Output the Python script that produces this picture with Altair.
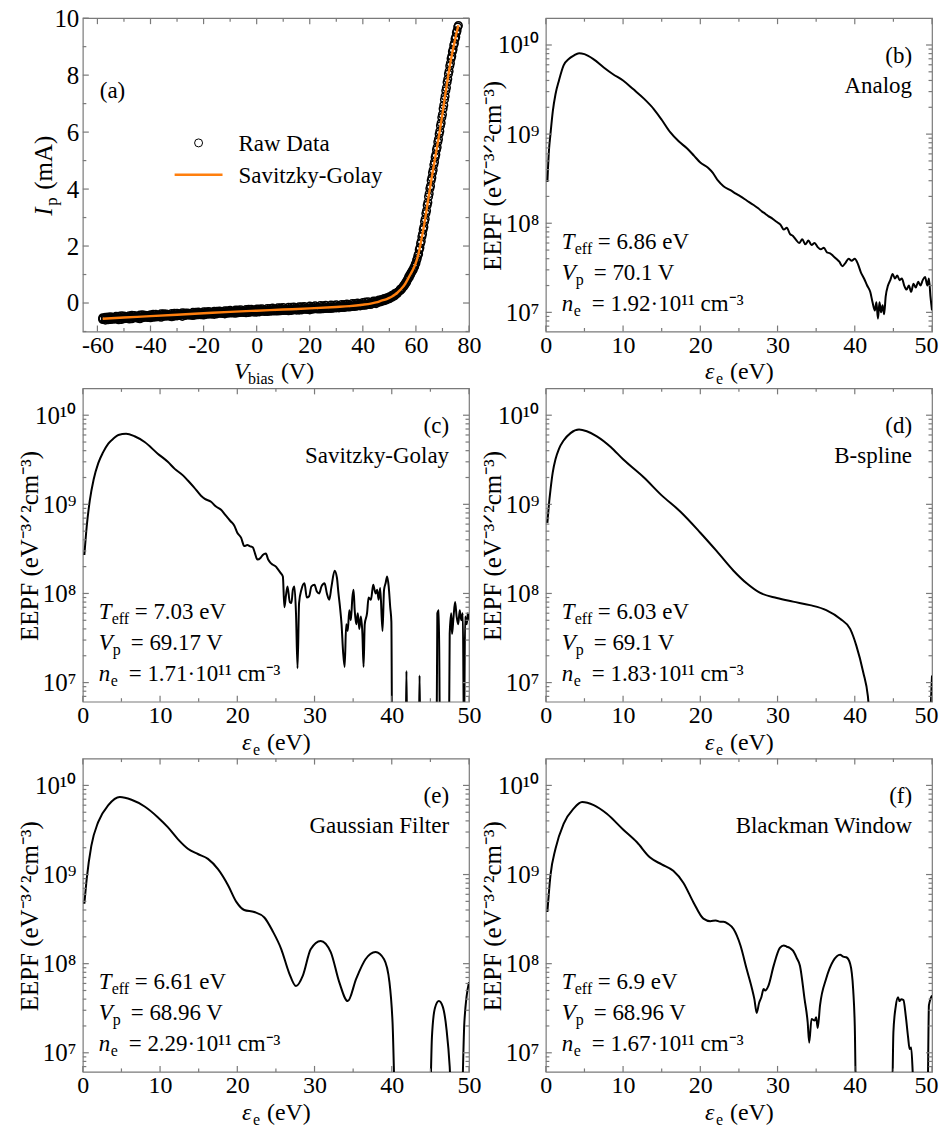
import altair as alt
import pandas as pd

FONT = "Liberation Serif"
FRAME = "#7a7a7a"
ORANGE = "#ff7f0e"
W, H = 387, 314
TICK_FS = 24
TXT_FS = 23
TITLE_FS = 24
SUB_FS = 16
XT_Y = H + 48

# ---------------- panel (a): I-V curve ----------------
RAW_V_FLAT = [-58, -57, -56, -55, -54, -53, -52, -51, -50, -49, -48, -47, -46, -45, -44, -43, -42, -41, -40, -39,
              -38, -37, -36, -35, -34, -33, -32, -31, -30, -29, -28, -27, -26, -25, -24, -23, -22, -21, -20, -19,
              -18, -17, -16, -15, -14, -13, -12, -11, -10, -9, -8, -7, -6, -5, -4, -3, -2, -1, 0, 1,
              2, 3, 4, 5, 6, 7, 8, 9, 10, 11, 12, 13, 14, 15, 16, 17, 18, 19, 20, 21,
              22, 23, 24, 25, 26, 27, 28, 29, 30, 31, 32, 33, 34, 35, 36, 37, 38, 39, 40, 41,
              42, 43, 44, 45, 46, 47, 48, 49, 50, 51, 52, 53, 54]
RAW_I_SWEEP1 = [-0.52, -0.60, -0.49, -0.58, -0.50, -0.47, -0.59, -0.45, -0.55, -0.48, -0.56, -0.43, -0.52, -0.47, -0.55, -0.41, -0.50, -0.44, -0.52, -0.40,
                -0.49, -0.43, -0.50, -0.38, -0.46, -0.42, -0.48, -0.36, -0.45, -0.39, -0.47, -0.35, -0.42, -0.38, -0.44, -0.33, -0.41, -0.35, -0.42, -0.31,
                -0.39, -0.33, -0.40, -0.29, -0.36, -0.31, -0.38, -0.27, -0.35, -0.29, -0.36, -0.25, -0.33, -0.28, -0.34, -0.22, -0.31, -0.26, -0.32, -0.21,
                -0.29, -0.24, -0.30, -0.19, -0.28, -0.22, -0.28, -0.17, -0.26, -0.21, -0.27, -0.15, -0.24, -0.19, -0.25, -0.13, -0.22, -0.17, -0.24, -0.12,
                -0.20, -0.15, -0.21, -0.10, -0.19, -0.13, -0.19, -0.08, -0.17, -0.11, -0.16, -0.05, -0.14, -0.08, -0.12, -0.02, -0.10, -0.03, -0.08, 0.03,
                -0.05, 0.02, -0.01, 0.07, 0.03, 0.12, 0.08, 0.18, 0.15, 0.27, 0.25, 0.38, 0.43]
RAW_I_SWEEP2 = [-0.58, -0.50, -0.59, -0.48, -0.57, -0.56, -0.47, -0.58, -0.46, -0.54, -0.45, -0.55, -0.44, -0.53, -0.42, -0.52, -0.43, -0.51, -0.41, -0.50,
                -0.40, -0.48, -0.38, -0.47, -0.39, -0.46, -0.37, -0.46, -0.36, -0.44, -0.34, -0.44, -0.35, -0.43, -0.33, -0.42, -0.32, -0.41, -0.31, -0.40,
                -0.30, -0.39, -0.29, -0.38, -0.28, -0.37, -0.27, -0.36, -0.26, -0.35, -0.25, -0.34, -0.24, -0.33, -0.23, -0.33, -0.22, -0.32, -0.21, -0.31,
                -0.20, -0.30, -0.19, -0.29, -0.18, -0.28, -0.17, -0.27, -0.16, -0.26, -0.15, -0.26, -0.14, -0.25, -0.13, -0.24, -0.12, -0.23, -0.11, -0.22,
                -0.10, -0.21, -0.09, -0.20, -0.08, -0.19, -0.07, -0.18, -0.06, -0.17, -0.05, -0.16, -0.04, -0.14, -0.02, -0.12, 0.00, -0.10, 0.02, -0.08,
                0.04, -0.05, 0.07, -0.02, 0.10, 0.05, 0.16, 0.11, 0.22, 0.20, 0.33, 0.33, 0.47]
RAW_I_SWEEP3 = [-0.55, -0.54, -0.55, -0.53, -0.54, -0.52, -0.53, -0.51, -0.52, -0.50,
                -0.51, -0.49, -0.50, -0.48, -0.49, -0.47, -0.48, -0.46, -0.47, -0.45,
                -0.46, -0.44, -0.45, -0.43, -0.44, -0.42, -0.43, -0.41, -0.42, -0.40,
                -0.41, -0.39, -0.40, -0.38, -0.39, -0.37, -0.38, -0.36, -0.37, -0.35,
                -0.36, -0.34, -0.35, -0.33, -0.34, -0.32, -0.33, -0.31, -0.32, -0.30,
                -0.31, -0.29, -0.30, -0.28, -0.29, -0.27, -0.28, -0.26, -0.28, -0.26,
                -0.27, -0.25, -0.26, -0.24, -0.25, -0.23, -0.24, -0.22, -0.24, -0.22,
                -0.23, -0.21, -0.22, -0.20, -0.21, -0.19, -0.20, -0.18, -0.20, -0.18,
                -0.19, -0.17, -0.18, -0.16, -0.17, -0.15, -0.16, -0.14, -0.15, -0.13,
                -0.14, -0.11, -0.12, -0.10, -0.11, -0.08, -0.09, -0.06, -0.07, -0.04,
                -0.04, -0.01, 0.00, 0.03, 0.04, 0.08, 0.10, 0.15, 0.18, 0.24,
                0.28, 0.37, 0.45]
RAW_V_RISE = [54.25, 54.5, 54.75,
              55.0, 55.25, 55.5, 55.75, 56.0, 56.25, 56.5, 56.75, 57.0, 57.25, 57.5, 57.75,
              58.0, 58.25, 58.5, 58.75, 59.0, 59.25, 59.5, 59.75, 60.0, 60.25, 60.5, 60.75,
              61.0, 61.25, 61.5, 61.75, 62.0, 62.25, 62.5, 62.75, 63.0, 63.25, 63.5, 63.75,
              64.0, 64.25, 64.5, 64.75, 65.0, 65.25, 65.5, 65.75, 66.0, 66.25, 66.5, 66.75,
              67.0, 67.25, 67.5, 67.75, 68.0, 68.25, 68.5, 68.75, 69.0, 69.25, 69.5, 69.75,
              70.0, 70.25, 70.5, 70.75, 71.0, 71.25, 71.5, 71.75, 72.0, 72.25, 72.5, 72.75,
              73.0, 73.25, 73.5, 73.75, 74.0, 74.25, 74.5, 74.75, 75.0, 75.25, 75.5, 75.75,
              76.0]
RAW_I_RISE = [0.49, 0.47, 0.53,
              0.54, 0.60, 0.59, 0.66, 0.66, 0.74, 0.73, 0.82, 0.83, 0.92, 0.90, 1.00,
              0.99, 1.08, 1.09, 1.16, 1.17, 1.25, 1.27, 1.36, 1.40, 1.50, 1.56, 1.67,
              1.72, 1.87, 1.94, 2.09, 2.17, 2.33, 2.42, 2.58, 2.67, 2.85, 2.95, 3.14,
              3.24, 3.43, 3.53, 3.73, 3.84, 4.02, 4.11, 4.30, 4.40, 4.57, 4.67, 4.85,
              4.95, 5.12, 5.21, 5.38, 5.47, 5.65, 5.75, 5.93, 6.03, 6.22, 6.32, 6.51,
              6.62, 6.82, 6.94, 7.14, 7.26, 7.45, 7.56, 7.75, 7.86, 8.04, 8.14, 8.32,
              8.42, 8.58, 8.66, 8.82, 8.90, 9.05, 9.12, 9.27, 9.34, 9.49, 9.56, 9.69,
              9.74]
SG_V = [-58, -50, -40, -30, -20, -10, 0, 10, 20, 30, 35, 40, 43, 45, 47, 49, 50, 51, 52, 53,
        54, 55, 56, 57, 58, 59, 60, 61, 62, 63, 64, 65, 66, 67, 68, 69, 70, 71, 72, 73, 74, 75, 76]
SG_I = [-0.55, -0.51, -0.46, -0.41, -0.36, -0.31, -0.27, -0.23, -0.19, -0.14, -0.11, -0.06, -0.02, 0.02, 0.08, 0.14, 0.18, 0.23, 0.29, 0.36,
        0.45, 0.55, 0.68, 0.85, 1.02, 1.19, 1.42, 1.74, 2.19, 2.69, 3.26, 3.86, 4.42, 4.97, 5.49, 6.05, 6.64, 7.28, 7.88, 8.44, 8.92, 9.36, 9.75]

A_X_MAJOR = [-60, -40, -20, 0, 20, 40, 60, 80]
A_X_MINOR = [-50, -30, -10, 10, 30, 50, 70]
A_Y_MAJOR = [0, 2, 4, 6, 8, 10]
A_Y_MINOR = [-1, 1, 3, 5, 7, 9]

# ---------------- EEPF panels ----------------
E_X_MAJOR = [0, 10, 20, 30, 40, 50]
E_X_MINOR = [5, 15, 25, 35, 45]
E_Y_MAJOR = [1e7, 1e8, 1e9, 1e10]
E_Y_MINOR = [7e6, 8e6, 9e6, 2e7, 3e7, 4e7, 5e7, 6e7, 7e7, 8e7, 9e7,
             2e8, 3e8, 4e8, 5e8, 6e8, 7e8, 8e8, 9e8, 2e9, 3e9, 4e9, 5e9, 6e9, 7e9, 8e9, 9e9]

B_E = [0.2, 0.4, 0.6, 0.9, 1.25, 1.7, 2.3, 3.0, 3.6, 4.3, 5.0, 6.2, 7.5, 8.7, 10.0, 11.3, 12.7, 14.0, 15.0, 16.1,
       17.2, 18.3, 19.2, 20.0, 21.0, 21.6, 22.3, 23.0, 23.9, 24.6, 25.2, 26.0, 26.9, 27.5,
       28.0, 28.4, 28.8, 29.2, 29.6, 30.0, 30.4, 30.8, 31.2, 31.6, 32.0, 32.4, 32.8, 33.2, 33.6, 34.0, 34.4, 34.8, 35.2, 35.6,
       36.0, 36.4, 36.8, 37.2, 37.6, 38.0, 38.4, 38.8, 39.2, 39.6, 40.0, 40.4, 40.8, 41.2, 41.6, 42.0, 42.3, 42.6, 42.8, 43.0,
       43.2, 43.4, 43.6, 43.8, 44.0, 44.3, 44.6, 44.9, 45.2, 45.5, 45.8, 46.1, 46.4, 46.7, 47.0, 47.3, 47.6, 47.9, 48.2, 48.5,
       48.8, 49.1, 49.4, 49.6, 49.8, 50.0]
B_F = [2.9e8, 6.5e8, 1.0e9, 1.8e9, 2.8e9, 4.0e9, 5.9e9, 7.0e9, 7.6e9, 8.1e9, 7.9e9, 6.9e9, 5.6e9, 4.7e9, 4.0e9, 3.2e9, 2.5e9, 1.9e9, 1.45e9, 1.05e9,
       8.3e8, 6.9e8, 5.7e8, 4.8e8, 4.2e8, 3.7e8, 3.0e8, 2.6e8, 2.35e8, 2.15e8, 2.0e8, 1.8e8, 1.6e8, 1.47e8,
       1.35e8, 1.28e8, 1.2e8, 1.15e8, 1.08e8, 1.02e8, 9.6e7, 8.5e7, 8.9e7, 7.6e7, 7.2e7, 6.5e7, 6.0e7, 6.6e7, 5.8e7, 6.4e7, 5.7e7, 6.0e7, 5.4e7, 5.1e7,
       5.3e7, 4.7e7, 4.6e7, 4.3e7, 4.0e7, 3.7e7, 3.3e7, 3.6e7, 4.0e7, 3.8e7, 4.0e7, 3.5e7, 2.8e7, 2.4e7, 2.0e7, 1.7e7, 1.3e7, 1.05e7, 1.3e7, 8.5e6,
       1.3e7, 1.0e7, 1.2e7, 9.5e6, 1.5e7, 2.0e7, 2.3e7, 2.7e7, 2.4e7, 2.6e7, 2.3e7, 2.4e7, 2.0e7, 1.8e7, 2.0e7, 1.7e7, 2.1e7, 1.9e7, 2.2e7, 2.0e7,
       2.3e7, 2.5e7, 2.0e7, 2.4e7, 1.5e7, 1.05e7]

C_E = [0.2, 0.5, 0.9, 1.4, 2.0, 2.6, 3.3, 4.0, 4.6, 5.6, 6.7, 8.0, 9.7, 11.0, 11.9, 13.0, 13.6, 14.4, 15.3, 15.8,
       16.6, 17.2, 17.9, 18.5, 19.1, 19.6, 20.0, 20.5, 20.9, 21.3, 21.6, 22.0, 22.3, 22.6, 23.0, 23.3, 23.7, 24.0, 24.3, 24.6,
       25.0, 25.2, 25.6, 25.9, 26.1, 26.3, 26.5, 26.8, 27.0, 27.2, 27.4, 27.6, 27.8, 28.0, 28.3, 28.7, 29.0, 29.3, 29.6, 30.0,
       30.3, 30.6, 30.9, 31.3, 31.6, 31.9, 32.2, 32.6, 32.9, 33.1, 33.3, 33.5, 33.7, 33.9, 34.1, 34.3, 34.5, 34.7, 34.9, 35.05,
       35.2, 35.4, 35.6, 35.8, 36.0, 36.2, 36.35, 36.5, 36.8, 37.0, 37.3, 37.6, 37.9, 38.1, 38.3, 38.5, 38.8, 39.0, 39.2, 39.4,
       39.6, 39.8, 39.95, 40.05, 41.8, 41.9, 42.0, 43.5, 43.6, 43.7, 45.8, 45.9, 46.1, 46.25, 47.4, 47.5, 47.7, 47.8, 48.0, 48.2,
       48.4, 48.6, 48.8, 49.0, 49.2, 49.35, 49.5, 49.7, 49.85, 50.0]
C_F = [2.7e8, 5.6e8, 1.1e9, 1.9e9, 2.9e9, 3.8e9, 4.8e9, 5.5e9, 6.0e9, 6.2e9, 5.8e9, 5.0e9, 3.7e9, 3.0e9, 2.5e9, 2.1e9, 1.85e9, 1.55e9, 1.25e9, 1.15e9,
       1.07e9, 9.5e8, 8.7e8, 7.5e8, 6.5e8, 5.8e8, 4.8e8, 4.2e8, 3.4e8, 3.5e8, 3.4e8, 3.3e8, 2.8e8, 2.4e8, 2.5e8, 2.7e8, 2.8e8, 2.4e8, 2.2e8, 2.1e8,
       2.0e8, 1.9e8, 1.7e8, 1.55e8, 7.0e7, 9.5e7, 1.2e8, 8.0e7, 7.8e7, 1.1e8, 1.2e8, 6.0e7, 1.45e7, 7.8e7, 1.1e8, 1.3e8, 9.0e7, 9.3e7, 1.2e8, 1.25e8,
       1.05e8, 1.0e8, 1.2e8, 1.3e8, 1.0e8, 8.5e7, 1.2e8, 1.8e8, 1.5e8, 1.0e8, 7.0e7, 4.5e7, 2.2e7, 1.5e7, 4.5e7, 3.8e7, 6.5e7, 5.0e7, 9.0e7, 1.1e8,
       6.5e7, 4.5e7, 6.0e7, 4.0e7, 5.5e7, 3.5e7, 1.5e7, 4.5e7, 6.0e7, 9.0e7, 8.5e7, 1.25e8, 1.0e8, 1.1e8, 8.5e7, 1.15e8, 3.8e7, 1.1e8, 1.3e8, 1.55e8,
       1.2e8, 7.0e7, 4.8e7, 2e6, 2e6, 1.35e7, 2e6, 2e6, 1.2e7, 2e6, 2e6, 6.0e7, 6.5e7, 2e6, 2e6, 3.5e7, 6.0e7, 3.5e7, 5.5e7, 8.0e7,
       5.5e7, 4.5e7, 6.5e7, 5.0e7, 6.0e7, 2e6, 5.5e7, 4.5e7, 6.0e7, 5.0e7]

D_E = [0.2, 0.4, 0.6, 0.9, 1.25, 1.7, 2.3, 3.2, 4.3, 5.3, 6.6, 8.4, 10.0, 12.7, 15.0, 17.4, 20.0, 22.1, 24.3, 26.0,
       27.7, 29.9, 32.0, 34.2, 36.3, 38.1, 39.4, 40.2, 41.1, 41.7, 42.2, 49.45, 50.0]
D_F = [6.2e8, 1.0e9, 1.45e9, 2.3e9, 3.2e9, 4.2e9, 5.2e9, 6.3e9, 6.9e9, 6.6e9, 5.8e9, 4.4e9, 3.2e9, 2.0e9, 1.26e9, 8.3e8, 4.8e8, 3.0e8, 1.8e8, 1.3e8,
       1.02e8, 8.9e7, 8.1e7, 7.4e7, 6.5e7, 5.2e7, 4.0e7, 2.6e7, 1.3e7, 7.0e6, 2e6, 2e6, 1.2e7]

E_E = [0.2, 0.5, 1.1, 2.0, 3.3, 4.8, 6.3, 8.0, 9.7, 11.0, 12.3, 13.6, 14.9, 16.2, 17.5, 18.8, 19.9, 20.9, 22.2, 23.5,
       24.6, 25.7, 26.7, 27.6, 28.5, 29.5, 30.8, 32.1, 33.2, 34.3, 35.4, 36.6, 37.9, 39.0, 39.7, 40.1, 40.5, 44.9, 45.2, 45.6,
       46.1, 46.6, 47.1, 47.5, 47.8, 49.0, 49.4, 50.0]
E_F = [4.7e8, 8.9e8, 2.1e9, 3.9e9, 6.0e9, 7.4e9, 6.9e9, 5.8e9, 4.4e9, 3.4e9, 2.5e9, 1.95e9, 1.7e9, 1.5e9, 1.15e9, 7.6e8, 4.9e8, 4.0e8, 3.8e8, 3.3e8,
       2.3e8, 1.45e8, 7.9e7, 5.6e7, 7.4e7, 1.45e8, 1.8e8, 1.35e8, 6.2e7, 3.8e7, 6.8e7, 1.12e8, 1.35e8, 1.12e8, 6.2e7, 2.2e7, 2e6, 2e6, 1.5e7, 3.2e7,
       3.8e7, 3.3e7, 1.8e7, 7e6, 2e6, 2e6, 2.2e7, 6.2e7]

F_E = [0.2, 0.6, 1.25, 2.3, 3.6, 4.7, 6.2, 7.9, 10.0, 11.8, 13.5, 15.0, 16.5, 17.8, 19.1, 20.4, 21.3, 22.0, 22.6, 23.0,
       23.6, 24.3, 25.2, 26.0, 26.7, 27.0, 27.3, 27.6, 27.9, 28.2, 28.4, 28.8, 29.5, 30.3, 30.8, 31.2, 31.6, 32.0, 32.5, 32.9,
       33.5, 33.9, 34.1, 34.4, 34.8, 35.0, 35.2, 35.5, 36.3, 37.2, 38.1, 38.5, 38.9, 39.4, 39.8, 40.0, 40.2, 44.8, 45.0, 45.3,
       45.6, 45.8, 46.0, 46.3, 46.6, 46.9, 47.1, 47.3, 47.5, 47.7, 49.4, 49.6, 50.0]
F_F = [3.8e8, 9.8e8, 1.95e9, 3.7e9, 5.5e9, 6.5e9, 6.0e9, 4.8e9, 3.2e9, 2.3e9, 1.55e9, 1.3e9, 1.1e9, 8.1e8, 4.9e8, 3.2e8, 3.0e8, 3.05e8, 2.95e8, 2.95e8,
       2.8e8, 2.45e8, 1.6e8, 8.7e7, 5.2e7, 4.0e7, 2.8e7, 3.6e7, 4.2e7, 5.2e7, 5.0e7, 5.6e7, 9.5e7, 1.5e8, 1.6e8, 1.55e8, 1.5e8, 1.4e8, 1.15e8, 9.5e7,
       4.0e7, 2.2e7, 1.3e7, 2.4e7, 2.3e7, 2.5e7, 1.9e7, 3.4e7, 6.8e7, 1.07e8, 1.26e8, 1.2e8, 1.18e8, 1.0e8, 5.0e7, 2.0e7, 2e6, 2e6, 1.7e7, 3.3e7,
       4.2e7, 3.8e7, 4.0e7, 3.9e7, 2.6e7, 1.5e7, 1.1e7, 1.15e7, 6e6, 2e6, 2e6, 3.4e7, 4.4e7]

PANELS = [
    ("(b)", "Analog", "= 6.86 eV", "= 70.1 V", "= 1.92·10¹¹ cm⁻³", B_E, B_F),
    ("(c)", "Savitzky-Golay", "= 7.03 eV", "= 69.17 V", "= 1.71·10¹¹ cm⁻³", C_E, C_F),
    ("(d)", "B-spline", "= 6.03 eV", "= 69.1 V", "= 1.83·10¹¹ cm⁻³", D_E, D_F),
    ("(e)", "Gaussian Filter", "= 6.61 eV", "= 68.96 V", "= 2.29·10¹¹ cm⁻³", E_E, E_F),
    ("(f)", "Blackman Window", "= 6.9 eV", "= 68.96 V", "= 1.67·10¹¹ cm⁻³", F_E, F_F),
]


def txt(s, x, y, size=TXT_FS, style="normal", align="left", baseline="alphabetic",
        dx=0, dy=0, angle=None, color="black"):
    kw = dict(font=FONT, fontSize=size, fontStyle=style, align=align,
              baseline=baseline, dx=dx, dy=dy, color=color)
    if angle is not None:
        kw["angle"] = angle
    return alt.Chart(pd.DataFrame({"t": [s]})).mark_text(**kw).encode(
        x=alt.value(x), y=alt.value(y), text="t:N")


def tick_layers(xs, ys, xax, yax, xmaj, xmin, ymaj, ymin):
    out = []
    for vals, L in ((xmaj, 6), (xmin, 3.5)):
        r = alt.Chart(pd.DataFrame({"v": vals})).mark_rule(color=FRAME, strokeWidth=1.2)
        out.append(r.encode(x=alt.X("v:Q", scale=xs, axis=xax), y=alt.value(H), y2=alt.value(H - L)))
        out.append(r.encode(x=alt.X("v:Q", scale=xs, axis=xax), y=alt.value(0), y2=alt.value(L)))
    for vals, L in ((ymaj, 6), (ymin, 3.5)):
        r = alt.Chart(pd.DataFrame({"v": vals})).mark_rule(color=FRAME, strokeWidth=1.2)
        out.append(r.encode(y=alt.Y("v:Q", scale=ys, axis=yax), x=alt.value(0), x2=alt.value(L)))
        out.append(r.encode(y=alt.Y("v:Q", scale=ys, axis=yax), x=alt.value(W), x2=alt.value(W - L)))
    return out


def eq(sym, sub, rest, y, sub_dx, rest_dx, x=16):
    return [txt(sym, x, y, style="italic"),
            txt(sub, x, y, size=SUB_FS, dx=sub_dx, dy=5),
            txt(rest, x, y, dx=rest_dx)]


def eps_title():
    x0, y0 = W / 2, XT_Y
    return [txt("ε", x0, y0, size=TITLE_FS, style="italic", dx=-34),
            txt("e", x0, y0, size=16, dx=-23, dy=5),
            txt("(eV)", x0, y0, size=TITLE_FS, dx=-9)]


def x_axis(values, right_col=False, expr=None):
    kw = dict(values=values, ticks=False, domain=False, grid=False, labelFont=FONT,
              labelFontSize=TICK_FS, labelColor="black", labelPadding=2, title=None,
              labelFlush=False, labelOverlap=False)
    if expr:
        kw["labelExpr"] = expr
    if right_col:
        kw["labelAlign"] = {"condition": {"test": "datum.value == 50", "value": "right"}, "value": "center"}
        kw["labelOffset"] = {"condition": {"test": "datum.value == 50", "value": 6}, "value": 0}
    return alt.Axis(**kw)


def y_axis(values, pad, expr=None, fmt=None):
    kw = dict(values=values, ticks=False, domain=False, grid=False, labelFont=FONT,
              labelFontSize=TICK_FS + 1, labelColor="black", labelPadding=pad, title=None,
              labelFlush=False, labelOverlap=False)
    if expr:
        kw["labelExpr"] = expr
    if fmt:
        kw["format"] = fmt
    return alt.Axis(**kw)


# ---------- panel (a) ----------
xs_a = alt.Scale(domain=[-65.5, 80], nice=False, zero=False)
ys_a = alt.Scale(domain=[-1, 10], nice=False, zero=False)
xax_a = x_axis(A_X_MAJOR, expr="datum.value < 0 ? '-' + abs(datum.value) : '' + datum.value")
yax_a = y_axis(A_Y_MAJOR, 4, fmt="d")
raw_df = pd.DataFrame({"v": RAW_V_FLAT + RAW_V_FLAT + RAW_V_FLAT + RAW_V_RISE,
                       "i": RAW_I_SWEEP1 + RAW_I_SWEEP2 + RAW_I_SWEEP3 + RAW_I_RISE})
sg_df = pd.DataFrame({"v": SG_V, "i": SG_I})

raw = alt.Chart(raw_df).mark_point(shape="circle", filled=False, size=58, color="black",
                                   strokeWidth=1.5, opacity=1).encode(
    x=alt.X("v:Q", scale=xs_a, axis=xax_a),
    y=alt.Y("i:Q", scale=ys_a, axis=yax_a))
sg = alt.Chart(sg_df).mark_line(color=ORANGE, strokeWidth=2.4, interpolate="monotone").encode(
    x=alt.X("v:Q", scale=xs_a, axis=xax_a), y=alt.Y("i:Q", scale=ys_a, axis=yax_a))

a_texts = [
    txt("(a)", 17, 80),
    alt.Chart(pd.DataFrame({"t": ["o"]})).mark_point(shape="circle", filled=False, size=64, color="black",
                                                     strokeWidth=1, opacity=1).encode(
        x=alt.value(116), y=alt.value(125)),
    txt("Raw Data", 156, 133),
    alt.Chart(pd.DataFrame({"t": ["l"]})).mark_rule(color=ORANGE, strokeWidth=2.5).encode(
        x=alt.value(92), x2=alt.value(140), y=alt.value(157)),
    txt("Savitzky-Golay", 156, 165),
    # x title  V_bias (V)
    txt("V", W / 2, XT_Y, size=TITLE_FS, style="italic", dx=-42),
    txt("bias", W / 2, XT_Y, size=SUB_FS, dx=-28, dy=5),
    txt("(V)", W / 2, XT_Y, size=TITLE_FS, dx=5),
    # y title  I_p (mA)
    txt("I", -31, H / 2 + 1, size=TITLE_FS + 1, style="italic", dx=-40, angle=270),
    txt("p", -31, H / 2 + 1, size=17, dx=-30, dy=5, angle=270),
    txt("(mA)", -31, H / 2 + 1, size=TITLE_FS + 1, dx=-14, angle=270),
]

panel_a = alt.layer(raw, sg, *tick_layers(xs_a, ys_a, xax_a, yax_a, A_X_MAJOR, A_X_MINOR, A_Y_MAJOR, A_Y_MINOR),
                    *a_texts).properties(width=W, height=H)


# ---------- EEPF panels ----------
LOG_EXPR = "datum.value > 5e9 ? '10¹⁰' : datum.value > 5e8 ? '10⁹' : datum.value > 5e7 ? '10⁸' : '10⁷'"


def eepf_panel(letter, method, teff, vp, ne, E, F, right_col):
    xs = alt.Scale(domain=[0, 50], nice=False, zero=False)
    ys = alt.Scale(type="log", domain=[6.1e6, 2e10], nice=False)
    xax = x_axis(E_X_MAJOR, right_col=right_col)
    yax = y_axis(E_Y_MAJOR, 7, expr=LOG_EXPR)
    df = pd.DataFrame({"e": E, "f": F})
    line = alt.Chart(df).mark_line(color="black", strokeWidth=2, clip=True, interpolate="monotone").encode(
        x=alt.X("e:Q", scale=xs, axis=xax),
        y=alt.Y("f:Q", scale=ys, axis=yax))
    texts = [
        txt(letter, W - 20, 45, align="right"),
        txt(method, W - 20, 75, align="right"),
        *eq("T", "eff", teff, 231, 13, 36),
        *eq("V", "p", vp, 262, 14, 32),
        *eq("n", "e", ne, 293, 12, 30),
        *eps_title(),
        txt("EEPF (eV⁻³ᐟ²cm⁻³)", -45, H / 2 + 1, size=TITLE_FS + 1, align="center", angle=270),
    ]
    return alt.layer(line, *tick_layers(xs, ys, xax, yax, E_X_MAJOR, E_X_MINOR, E_Y_MAJOR, E_Y_MINOR),
                     *texts).properties(width=W, height=H)


panels = [panel_a]
for k, p in enumerate(PANELS):
    panels.append(eepf_panel(*p, right_col=(k % 2 == 0)))

chart = alt.concat(*panels, columns=2, spacing={"row": 57, "column": 77}, bounds="flush").properties(
    padding={"left": 17, "top": 4, "right": 0, "bottom": 1}
).configure_view(stroke=FRAME, strokeWidth=1.2)

chart.save("out.html", embed_options={"renderer": "svg", "actions": False})
